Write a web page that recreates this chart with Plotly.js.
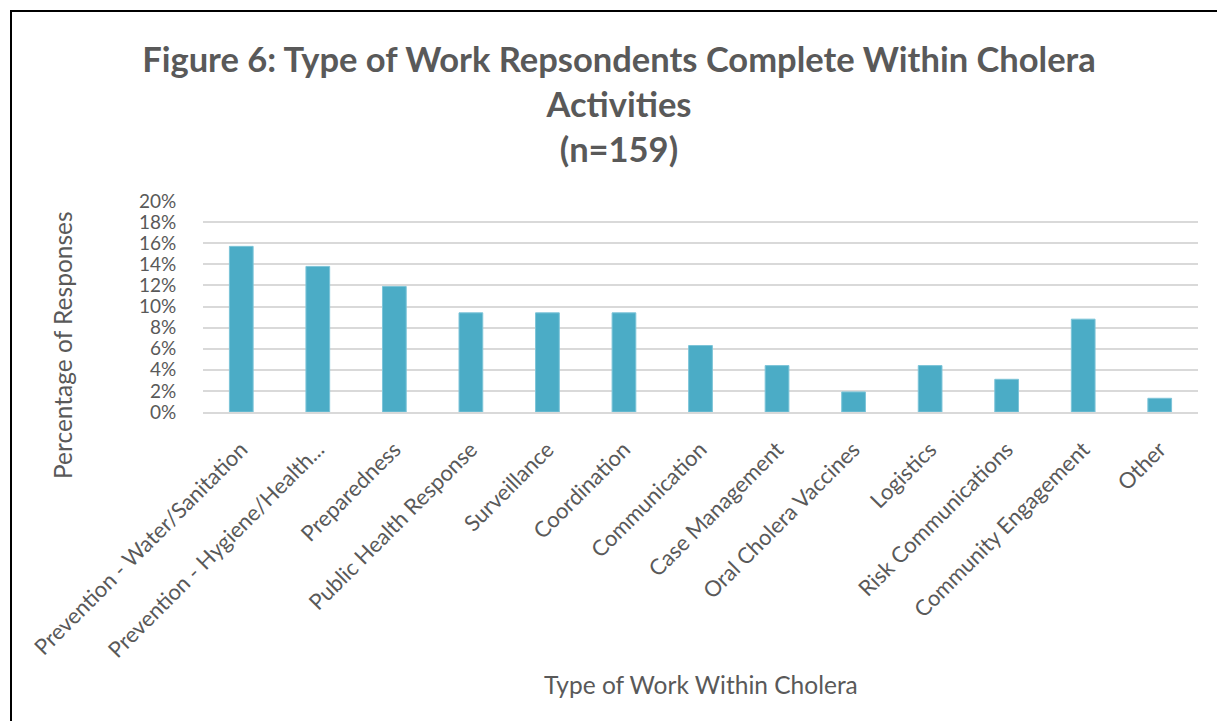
<!DOCTYPE html>
<html>
<head>
<meta charset="utf-8">
<script src="https://cdn.plot.ly/plotly-3.0.1.min.js"></script>
<style>
  html, body { margin: 0; padding: 0; background: #fff; }
  #chart { width: 1217px; height: 721px; }
  #frame { position: absolute; left: 10px; top: 10px; width: 1220px; height: 720px;
           border-left: 2px solid #000; border-top: 2px solid #000; pointer-events: none; }
</style>
</head>
<body>
<div id="chart"></div>
<div id="frame"></div>
<script>
// Types of cholera work reported by respondents (share of 159 responses)
const categories = [
  "Prevention - Water/Sanitation",
  "Prevention - Hygiene/Health...",
  "Preparedness",
  "Public Health Response",
  "Surveillance",
  "Coordination",
  "Communication",
  "Case Management",
  "Oral Cholera Vaccines",
  "Logistics",
  "Risk Communications",
  "Community Engagement",
  "Other"
];
const shares = [0.157, 0.138, 0.119, 0.094, 0.094, 0.094, 0.063, 0.044, 0.019, 0.044, 0.031, 0.088, 0.013];
const yTickValues = [0, 0.02, 0.04, 0.06, 0.08, 0.10, 0.12, 0.14, 0.16, 0.18, 0.20];
const yTickLabels = ["0%", "2%", "4%", "6%", "8%", "10%", "12%", "14%", "16%", "18%", "20%"];

const FONT = "Lato, 'Open Sans', sans-serif";
const TEXT = "#595959";

const trace = {
  type: "bar",
  x: categories,
  y: shares,
  marker: { color: "#4BACC6", line: { color: "#7CC4D8", width: 1 } },
  hoverinfo: "x+y"
};

const layout = {
  width: 1217,
  height: 721,
  paper_bgcolor: "#ffffff",
  plot_bgcolor: "#ffffff",
  margin: { l: 203, r: 19, t: 201, b: 309 },
  bargap: 0.69,
  showlegend: false,
  font: { family: FONT, color: TEXT },
  title: {
    text: "<b>Figure 6: Type of Work Repsondents Complete Within Cholera<br>Activities<br>(n=159)</b>",
    font: { family: FONT, size: 34.5, color: TEXT },
    x: 0.5086, xanchor: "center",
    yref: "container",
    y: 0.90, yanchor: "top"
  },
  xaxis: {
    type: "category",
    tickangle: -45,
    tickfont: { family: FONT, size: 22, color: TEXT },
    ticks: "outside", ticklen: 14, tickcolor: "rgba(0,0,0,0)",
    showline: true, linecolor: "#D9D9D9", linewidth: 2,
    showgrid: false,
    automargin: false
  },
  yaxis: {
    range: [0, 0.2],
    tickvals: yTickValues,
    ticktext: yTickLabels,
    tickfont: { family: FONT, size: 19, color: TEXT },
    ticks: "outside", ticklen: 22, tickcolor: "rgba(0,0,0,0)",
    showgrid: true, gridcolor: "#D9D9D9", gridwidth: 2,
    zeroline: false,
    automargin: false
  },
  annotations: [
    {
      // x-axis title
      text: "Type of Work Within Cholera",
      xref: "paper", yref: "paper",
      x: 0.5, y: -272 / 211,
      xanchor: "center", yanchor: "middle",
      showarrow: false,
      font: { family: FONT, size: 24.5, color: TEXT }
    },
    {
      // y-axis title
      text: "Percentage of Responses",
      xref: "paper", yref: "paper",
      x: (62 - 203) / 995, y: (412 - 345) / 211,
      xanchor: "center", yanchor: "middle",
      textangle: -90,
      showarrow: false,
      font: { family: FONT, size: 24.5, color: TEXT }
    }
  ]
};

Plotly.newPlot("chart", [trace], layout, { displayModeBar: false, staticPlot: true });
</script>
</body>
</html>
